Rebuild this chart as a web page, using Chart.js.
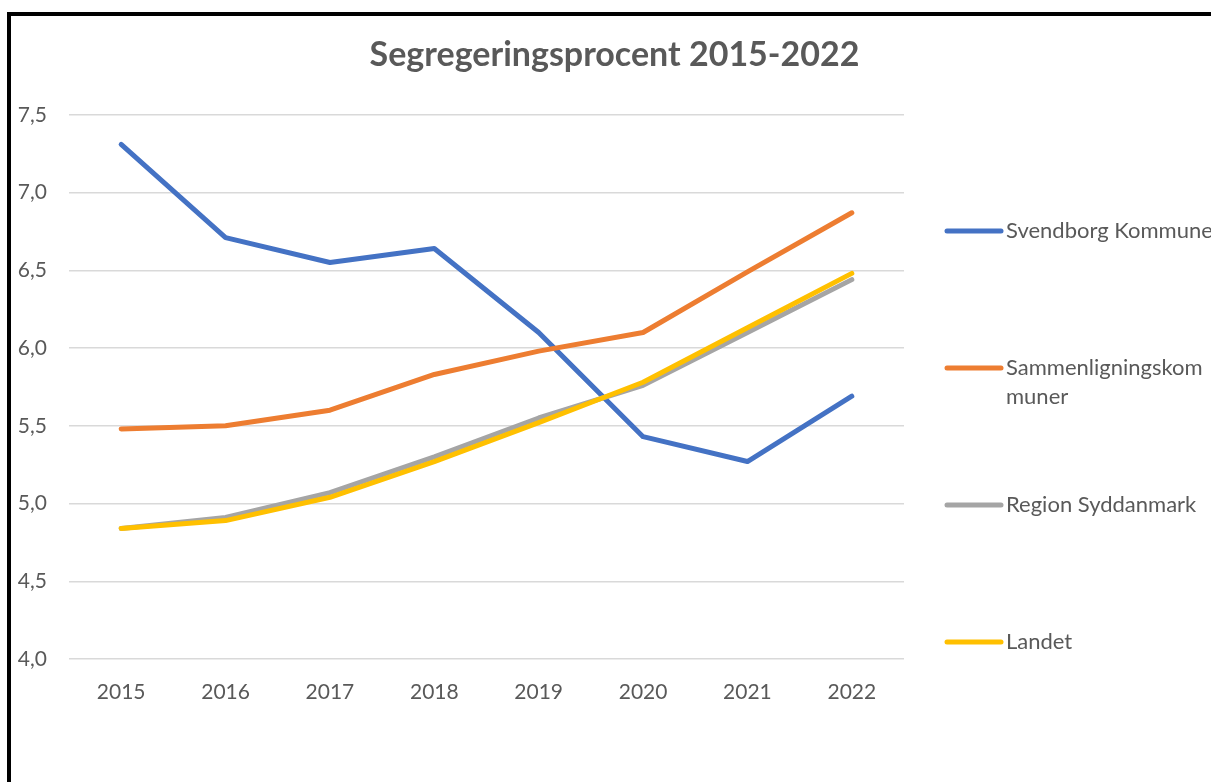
<!DOCTYPE html>
<html>
<head>
<meta charset="utf-8">
<script src="https://cdn.jsdelivr.net/npm/chart.js@4.4.0/dist/chart.umd.min.js"></script>
<style>
  html, body { margin: 0; padding: 0; background: #fff; overflow: hidden; }
  #wrap { position: relative; width: 1211px; height: 782px; }
  #frame {
    position: absolute; left: 7px; top: 12px; right: -10px; bottom: -10px;
    border-left: 4px solid #000; border-top: 4px solid #000; pointer-events: none;
  }
</style>
</head>
<body>
<div id="wrap">
  <canvas id="chart" width="1211" height="782"></canvas>
  <div id="frame"></div>
</div>
<script>
const years = ['2015', '2016', '2017', '2018', '2019', '2020', '2021', '2022'];
const seriesNames = ['Svendborg Kommune', 'Sammenligningskommuner', 'Region Syddanmark', 'Landet'];
const svendborg = [7.31, 6.71, 6.55, 6.64, 6.10, 5.43, 5.27, 5.69];
const sammenligning = [5.48, 5.50, 5.60, 5.83, 5.98, 6.10, 6.49, 6.87];
const region = [4.84, 4.91, 5.07, 5.30, 5.55, 5.76, 6.10, 6.44];
const landet = [4.84, 4.89, 5.04, 5.27, 5.52, 5.78, 6.13, 6.48];
const yTicks = [4.0, 4.5, 5.0, 5.5, 6.0, 6.5, 7.0, 7.5];

const colors = ['#4472C4', '#ED7D31', '#A5A5A5', '#FFC000'];
const textColor = '#595959';
const font = 'Lato';

// Excel wraps this one long name in the legend
const legendLines = {
  'Sammenligningskommuner': ['Sammenligningskom', 'muner']
};

const sideLegend = {
  id: 'sideLegend',
  afterDraw(chart) {
    const ctx = chart.ctx;
    const x0 = 947, x1 = 1001, tx = 1006;
    let y = 231;
    ctx.save();
    chart.data.datasets.forEach((ds) => {
      ctx.strokeStyle = ds.borderColor;
      ctx.lineWidth = 5;
      ctx.lineCap = 'round';
      ctx.beginPath();
      ctx.moveTo(x0, y);
      ctx.lineTo(x1, y);
      ctx.stroke();
      ctx.fillStyle = textColor;
      ctx.font = '22px ' + font;
      ctx.textBaseline = 'middle';
      ctx.textAlign = 'left';
      const lines = legendLines[ds.label] || [ds.label];
      lines.forEach((line, i) => ctx.fillText(line, tx, y + i * 29));
      y += 137;
    });
    ctx.restore();
  }
};

const datasets = [svendborg, sammenligning, region, landet].map((data, i) => ({
  label: seriesNames[i],
  data: data,
  borderColor: colors[i],
  backgroundColor: colors[i],
  borderWidth: 5,
  borderCapStyle: 'round',
  borderJoinStyle: 'round',
  pointRadius: 0,
  tension: 0,
  order: 4 - i
}));

new Chart(document.getElementById('chart'), {
  type: 'line',
  data: { labels: years, datasets: datasets },
  options: {
    responsive: false,
    animation: false,
    layout: { padding: { left: 18, right: 0, top: 0, bottom: 0 } },
    plugins: {
      legend: { display: false },
      tooltip: { enabled: false },
      title: {
        display: true,
        text: 'Segregeringsprocent 2015-2022',
        color: textColor,
        font: { family: font, size: 34, weight: 'bold', lineHeight: 1.2 },
        padding: { top: 35, bottom: 39 }
      }
    },
    scales: {
      x: {
        offset: true,
        grid: { display: false },
        border: { display: false },
        ticks: { color: textColor, font: { family: font, size: 21 }, padding: 13, maxRotation: 0 },
        afterFit(scale) { scale.height = 123; }
      },
      y: {
        min: 4,
        max: 7.5,
        afterBuildTicks(scale) { scale.ticks = yTicks.map(v => ({ value: v })); },
        grid: { color: '#D9D9D9', lineWidth: 1.5, drawTicks: false },
        border: { display: false },
        ticks: {
          color: textColor,
          font: { family: font, size: 21 },
          padding: 22,
          callback: v => v.toFixed(1).replace('.', ',')
        },
        afterFit(scale) { scale.width = 51; }
      },
      side: {
        position: 'right',
        min: 4,
        max: 7.5,
        grid: { display: false, drawOnChartArea: false },
        border: { display: false },
        ticks: { display: false },
        afterFit(scale) { scale.width = 307; }
      }
    }
  },
  plugins: [sideLegend]
});
</script>
</body>
</html>
